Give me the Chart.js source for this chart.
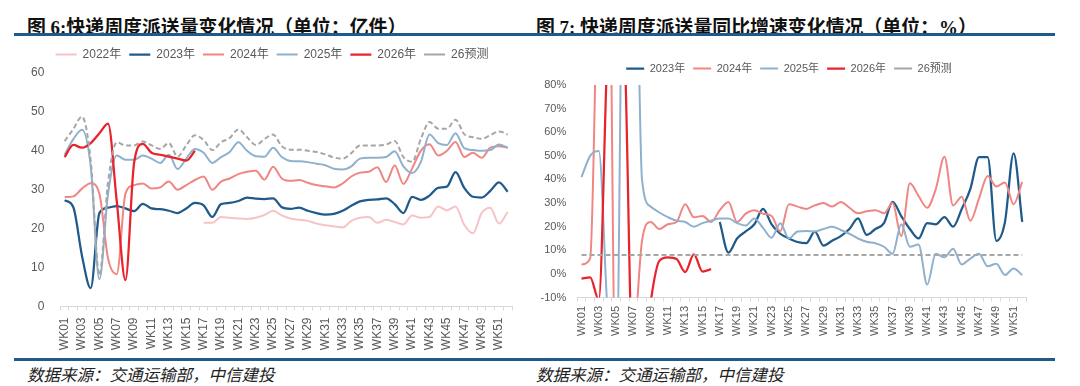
<!DOCTYPE html>
<html>
<head>
<meta charset="utf-8">
<script src="https://cdn.jsdelivr.net/npm/chart.js@4.4.1/dist/chart.umd.min.js"></script>
<style>
  body { margin: 0; width: 1080px; height: 386px; background: #fff; position: relative; overflow: hidden; }
  .title { position: absolute; top: 12px; line-height: 22px; font: bold 18.9px "Liberation Serif", "Noto Sans CJK SC", serif; color: #111; white-space: nowrap; }
  .rule { position: absolute; left: 14px; width: 1041px; height: 3px; background: #1f5a8a; }
  .src { position: absolute; top: 362px; line-height: 18px; font: italic 16.5px "Noto Sans CJK SC", sans-serif; color: #222; white-space: nowrap; }
  .box { position: absolute; }
</style>
</head>
<body>
<div class="title" style="left:27px">图 6:快递周度派送量变化情况（单位：亿件）</div>
<div class="title" style="left:536px">图 7: 快递周度派送量同比增速变化情况（单位：%）</div>
<div class="rule" style="top:33px"></div>
<div class="box" style="left:4px;top:43px;width:540px;height:309px"><canvas id="volChart"></canvas></div>
<div class="box" style="left:540px;top:56px;width:500px;height:283px"><canvas id="yoyChart"></canvas></div>
<div class="rule" style="top:358px"></div>
<div class="src" style="left:27px">数据来源：交通运输部，中信建投</div>
<div class="src" style="left:536px">数据来源：交通运输部，中信建投</div>
<script>
const FONT = '"Liberation Sans", "Noto Sans CJK SC", sans-serif';
const weeks = Array.from({length: 52}, (_, i) => 'WK' + String(i + 1).padStart(2, '0'));

// 图6 周度派送量（亿件）
const vol2022 = [null, null, null, null, null, null, null, null, null, null, null, null, null, null, null, null,
  21.5, 21.5, 23, 22.8, 22.6, 22.5, 22.8, 23.5, 24.6, 23.4, 22.6, 22.3, 22, 21.3, 20.9, 20.6, 20.3, 22,
  22.8, 23, 21.5, 22.3, 21.7, 21.1, 23.4, 22.8, 23, 25.7, 24.7, 25.7, 21, 18.8, 24, 25.4, 21.3, 24.3];
const vol2023 = [27.3, 25.5, 13, 4.7, 24, 25.4, 25.8, 25.2, 24.5, 26.4, 25.2, 25, 24.6, 24, 25.2, 26.6, 26, 23,
  26.3, 26.6, 27.1, 28, 27.7, 27.6, 27.8, 25.5, 25.1, 25.4, 24.6, 24, 23.6, 23.8, 24.6, 25.9, 27, 27.4,
  27.5, 27.8, 26.3, 24, 28.2, 27.4, 28.5, 30.5, 30.8, 34.5, 30.5, 28.2, 28, 29.7, 31.9, 29.5];
const vol2024 = [28.1, 28.3, 30.3, 31.7, 29, 12.3, 8.3, 29, 31.2, 31.6, 30.3, 30.6, 32.1, 30, 31.2, 32.5, 33.4, 30,
  32.1, 32.9, 34, 34.6, 34.9, 32.6, 35.9, 32.9, 32.3, 32.5, 31.8, 31.2, 30.9, 30.6, 31.6, 33.4, 34.4, 34.6,
  35.8, 32, 36.2, 31.5, 35.5, 40, 41.7, 38.8, 40, 42.3, 38.4, 39.5, 38.2, 40.8, 41.2, 40.8];
const vol2025 = [39, 43, 45.4, 36, 7, 29, 38.8, 37.7, 37.7, 38.8, 38, 36.9, 39, 35.3, 38, 40.5, 39.5, 36.9,
  38.4, 39.7, 42.2, 40, 38.6, 38.5, 40.8, 38.4, 37.4, 37.3, 37.1, 36.7, 36.3, 35.4, 35.2, 36, 38, 38.2,
  38.2, 38.4, 39.9, 36, 34.3, 37.1, 44.2, 42, 41.5, 44.5, 40.7, 40.2, 40, 40.2, 41.6, 40.8];
const vol2026 = [38.4, 41.5, 40.8, 42, 44.5, 47, 27, 6.8, 37, 41.8, 39.5, 39, 38.5, 38, 37.5, 40];
const volFcst = [42.5, 45.6, 48.8, 37.5, 8, 32, 42.2, 41.4, 41.4, 42.4, 41.4, 40.5, 42, 38.5, 41.4, 44, 42.8, 40.2,
  42.2, 43.3, 45.5, 43.5, 41.5, 43, 44.2, 41.2, 40.3, 40.3, 40, 39.7, 39.1, 38.3, 38, 39.4, 41.4, 41.4,
  41.4, 41.6, 42.5, 38.4, 37.2, 43, 47.4, 45.7, 45.7, 48, 44.3, 43.5, 43.1, 44, 45, 44.2];

// 图7 同比增速（%）
const yoy2023 = [null, null, null, null, null, null, null, null, null, null, null, null, null, null, null, null,
  22, 9, 15, 18, 21, 27.5, 21, 17, 15, 13.5, 13, 17.9, 12, 14, 16, 19, 23.5, 16.5, 19, 21.5,
  30.5, 24.5, 19, 15, 21.5, 21, 24, 20, 27.5, 36, 49.5, 49.5, 14, 22, 51, 22];
const yoy2024 = [4, 6.5, 150, 200, -60, -50, -35, 14, 22, 19, 21, 22, 29.5, 24, 24.5, 22, 27, 30.5,
  22, 25.5, 27, 25.5, 24.5, 18, 29.5, 28.5, 27.5, 29, 30, 28.5, 30.5, 28, 25.7, 26.5, 27, 25.7,
  30, 16, 38.4, 33, 28, 36, 49.6, 29, 32.7, 22.5, 32, 41.5, 37, 38.7, 29.5, 39];
const yoy2025 = [41, 50, 52, -15, -50, 200, 200, 40, 28.5, 26, 24, 22.5, 22, 20, 21.5, 22.5, 23.5, 23.5,
  21.5, 20.5, 23.5, 19.5, 15.3, 21.5, 15, 18, 18.2, 18, 19, 20, 18.6, 17, 15, 13.6, 13, 11.5,
  8.5, 21, 11.5, 12.5, -4.5, 8.5, 7, 10.7, 4, 6.5, 8.5, 3.2, 4.3, -0.5, 2.3, -0.5];
const yoy2026 = [-2, -1.5, -11, 95, 150, 95, -45, -45, -12, 5.5, 7, 6.3, 0.8, 8.3, 1, 2];
const yoyFcst = [8, 8, 8, 8, 8, 8, 8, 8, 8, 8, 8, 8, 8, 8, 8, 8, 8, 8, 8, 8, 8, 8, 8, 8, 8, 8,
  8, 8, 8, 8, 8, 8, 8, 8, 8, 8, 8, 8, 8, 8, 8, 8, 8, 8, 8, 8, 8, 8, 8, 8, 8, 8];

const C22 = '#f6c3c7', C23 = '#1f5a8a', C24 = '#f08582', C25 = '#8fb1cd', C26 = '#e8232b', CF = '#a6a6a6';

// nudges the legend box after layout so it sits where the original legend sits
const legendShift = {
  id: 'legendShift',
  afterLayout(chart, args, opts) {
    const lg = chart.legend;
    lg.left += opts.dx; lg.right += opts.dx;
    lg.top += opts.dy; lg.bottom += opts.dy;
  }
};

function series(label, data, color, width, order, dash) {
  return {
    label: label, data: data, borderColor: color, backgroundColor: color,
    borderWidth: width, borderDash: dash || [], pointRadius: 0, pointHoverRadius: 0,
    fill: false, cubicInterpolationMode: 'monotone', order: order
  };
}

function options(c) {
  const tickFont = {family: FONT, size: c.font};
  return {
    responsive: true,
    maintainAspectRatio: false,
    animation: false,
    layout: {padding: {left: 0, right: c.padRight, top: 0, bottom: 0}},
    plugins: {
      legend: {
        position: 'top',
        labels: {
          usePointStyle: true, pointStyle: 'line', pointStyleWidth: c.boxW, boxWidth: c.boxW,
          padding: 8, color: '#595959', font: tickFont,
          sort: (a, b) => a.datasetIndex - b.datasetIndex
        }
      },
      legendShift: {dx: c.dx, dy: c.dy},
      tooltip: {enabled: false}
    },
    scales: {
      x: {
        offset: true,
        grid: {display: true, drawOnChartArea: false, drawTicks: true, tickLength: 4, color: '#d9d9d9', offset: true},
        border: {color: '#d9d9d9'},
        ticks: {
          autoSkip: false, minRotation: 90, maxRotation: 90, padding: c.xPad,
          color: '#595959', font: tickFont,
          callback: (v, i) => (i % 2 === 0 ? weeks[i] : '')
        },
        afterFit: s => { s.height = c.xH; }
      },
      y: {
        min: c.min, max: c.max,
        grid: {display: false, drawTicks: false},
        border: {display: false},
        ticks: {stepSize: 10, padding: c.yPad, color: '#595959', font: tickFont, callback: c.fmt},
        afterFit: s => { s.width = c.yW; }
      }
    }
  };
}

new Chart(document.getElementById('volChart'), {
  type: 'line',
  data: {
    labels: weeks,
    datasets: [
      series('2022年', vol2022, C22, 2, 6),
      series('2023年', vol2023, C23, 2.25, 5),
      series('2024年', vol2024, C24, 2, 4),
      series('2025年', vol2025, C25, 2, 3),
      series('2026年', vol2026, C26, 2.25, 2),
      series('26预测', volFcst, CF, 2, 1, [5, 3])
    ]
  },
  options: options({font: 12, boxW: 21, padRight: 32, xPad: 7, xH: 45.5, yPad: 16, yW: 56.3,
    dx: 14, dy: -2.5, min: 0, max: 60, fmt: v => v}),
  plugins: [legendShift]
});

new Chart(document.getElementById('yoyChart'), {
  type: 'line',
  data: {
    labels: weeks,
    datasets: [
      series('2023年', yoy2023, C23, 2.25, 5),
      series('2024年', yoy2024, C24, 2, 4),
      series('2025年', yoy2025, C25, 2, 3),
      series('2026年', yoy2026, C26, 2.25, 2),
      series('26预测', yoyFcst, CF, 2, 1, [5, 3])
    ]
  },
  options: options({font: 11, boxW: 18, padRight: 7, xPad: 4.5, xH: 41.5, yPad: 11, yW: 37.2,
    dx: 2.5, dy: -1, min: -10, max: 80, fmt: v => v + '%'}),
  plugins: [legendShift]
});
</script>
</body>
</html>
